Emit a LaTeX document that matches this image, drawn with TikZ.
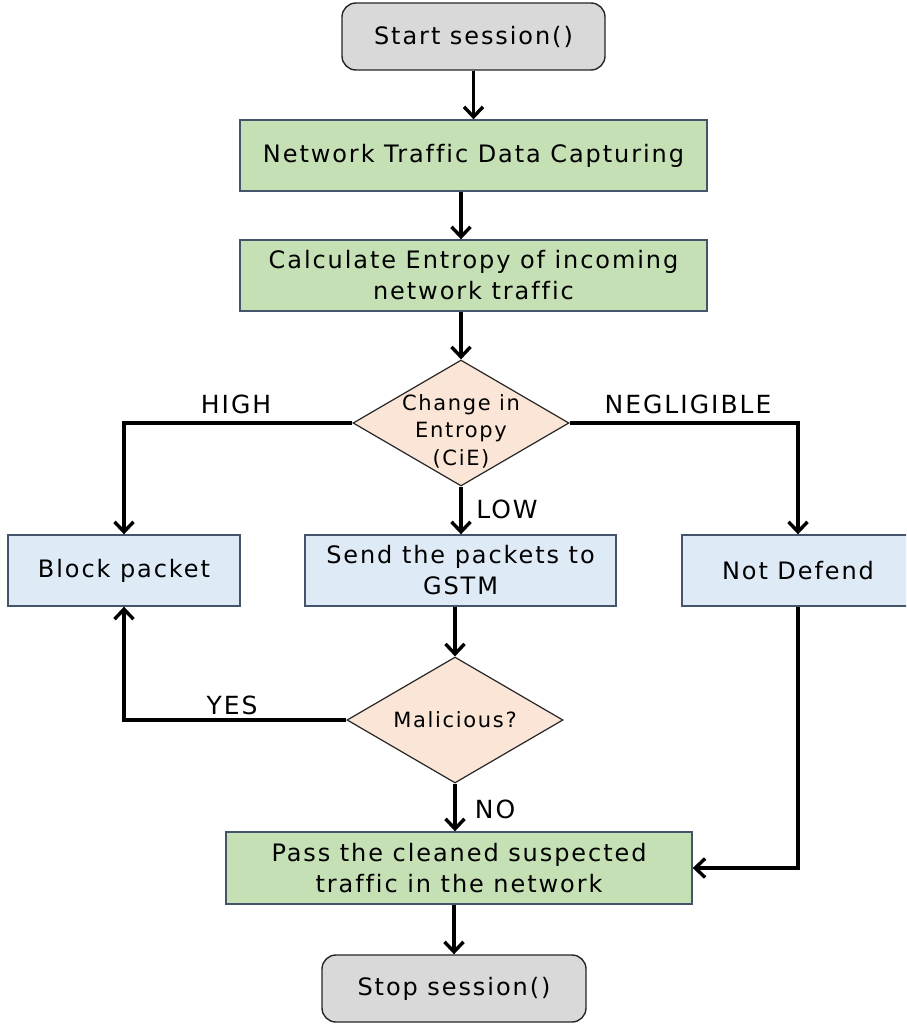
\documentclass[tikz,border=0pt]{standalone}
\usepackage{fontspec}
\setmainfont{DejaVu Sans}[LetterSpace=8, Ligatures=CommonOff]
\usetikzlibrary{shapes.geometric,arrows.meta}
\definecolor{termfill}{HTML}{D9D9D9}
\definecolor{procfill}{HTML}{C5E0B4}
\definecolor{actfill}{HTML}{DEEBF7}
\definecolor{decfill}{HTML}{FBE5D6}
\definecolor{boxline}{HTML}{44546A}
\tikzset{
  terminal/.style={draw=black!85, line width=1.4pt, fill=termfill, rounded corners=14pt,
    minimum width=263pt, minimum height=67pt, font=\fontsize{24}{28}\selectfont},
  procbox/.style={draw=boxline, line width=1.4pt, fill=procfill, align=center,
    minimum height=71pt, font=\fontsize{24}{31}\selectfont},
  actbox/.style={draw=boxline, line width=1.4pt, fill=actfill, align=center,
    minimum height=71pt, font=\fontsize{24}{31}\selectfont},
  decision/.style={diamond, draw=black!85, line width=1.2pt, fill=decfill, align=center,
    inner sep=-30pt, minimum width=216pt, minimum height=126pt, aspect=1.7,
    font=\fontsize{21}{27.5}\selectfont},
  flow/.style={line width=3.4pt, -{Straight Barb[length=10pt,width=19pt,line width=3.4pt]}},
  lbl/.style={font=\fontsize{25}{27}\selectfont}
}
\begin{document}
\begin{tikzpicture}[x=1pt,y=-1pt]
\useasboundingbox (0,0) rectangle (906,1025);
\clip (0,0) rectangle (906,1025);
\fill[white] (0,0) rectangle (906,1025);

% terminals and process boxes
\node[terminal] (start) at (473.5,36.5) {Start session()};
\node[procbox, minimum width=467pt] (net) at (473.5,155.5) {Network Traffic Data Capturing};
\node[procbox, minimum width=467pt] (calc) at (473.5,275.5) {Calculate Entropy of incoming\\network traffic};
% first decision, its text sits a little below the centre
\node[decision] (cie) at (461,423) {};
\node (cietext) at (461,431) [align=center, font=\fontsize{21}{27.5}\selectfont] {Change in\\Entropy\\(CiE)};
\node[actbox, minimum width=232pt] (block) at (124,570.5) {Block packet};
\node[actbox, minimum width=311pt] (send) at (460.5,570.5) {Send the packets to\\GSTM};
\node[actbox, minimum width=232pt] (notdef) at (798,570.5) {Not Defend};
\node[decision] (mal) at (455,720) {Malicious?};
\node[procbox, minimum width=466pt, minimum height=72pt] (pass) at (459,868) {Pass the cleaned suspected\\traffic in the network};
\node[terminal, minimum width=264pt] (stop) at (454,988.5) {Stop session()};

% connectors
\draw[flow] (start) -- (net);
\draw[flow] (net.south -| cie.north) -- (calc.north -| cie.north);
\draw[flow] (calc.south -| cie.north) -- (cie.north);
\draw[flow] (cie.south) -- (send.north -| cie.south);
\draw[flow] (cie.west) -| (block.north);
\draw[flow] (cie.east) -| (notdef.north);
\draw[flow] (send.south -| mal.north) -- (mal.north);
\draw[flow] (mal.west) -| (block.south);
\draw[flow] (mal.south) -- (pass.north -| mal.south);
\draw[flow] (notdef.south) |- (pass.east);
\draw[flow] (pass.south -| stop.north) -- (stop.north);

% branch labels
\node[lbl] (lhigh) at (236,404) {HIGH};
\node[lbl] (lneg) at (688,404) {NEGLIGIBLE};
\node[lbl] (llow) at (507,509) {LOW};
\node[lbl] (lyes) at (232,705) {YES};
\node[lbl] (lno) at (495,809) {NO};
\end{tikzpicture}
\end{document}
